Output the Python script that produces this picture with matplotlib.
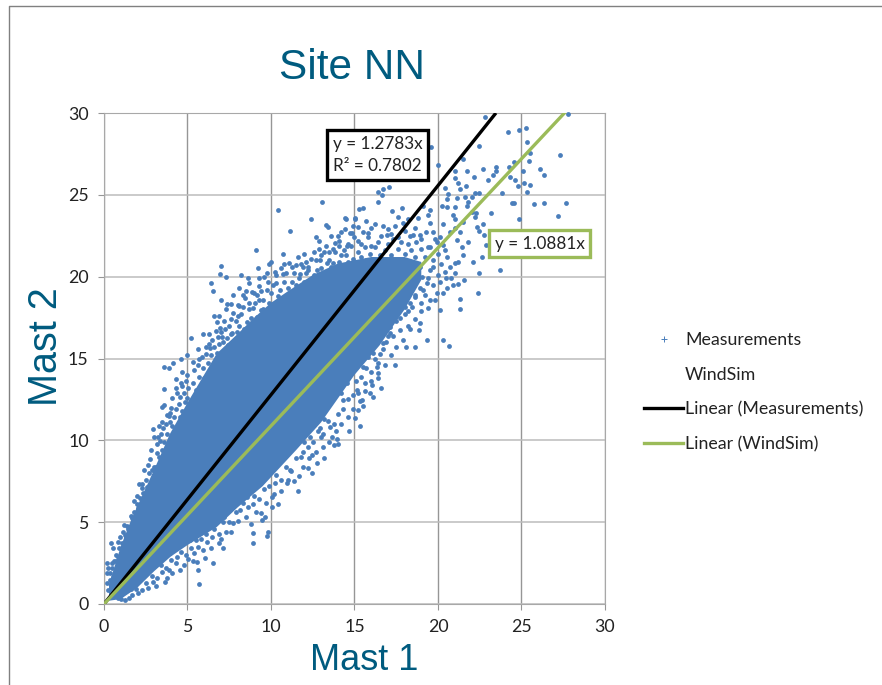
import numpy as np
import matplotlib
matplotlib.use("Agg")
import matplotlib.pyplot as plt
from matplotlib.lines import Line2D

title = "Site NN"
xlabel = "Mast 1"
ylabel = "Mast 2"
ticks = [0, 5, 10, 15, 20, 25, 30]
slope_meas = 1.2783
slope_sim = 1.0881
line_x_meas = [0, 23.47]
line_x_sim = [0, 27.8]

# solid part of the cloud, too dense to read single points
core_top_x = [0.3, 1, 1.65, 3, 3.95, 5, 6.75, 8, 9, 10, 11, 12.5, 14, 16, 18, 19]
core_top_y = [1.2, 3.5, 5.2, 8.2, 10.4, 12.3, 15.3, 16.5, 17.5, 18.4, 19.1, 20.1, 20.8, 21.2, 21.2, 20.9]
core_low_x = [19, 18, 16.5, 15, 13, 11.5, 9.5, 8, 6.75, 5, 4, 3, 2, 1, 0.3]
core_low_y = [19.8, 18.0, 15.8, 14.0, 11.1, 9.4, 7.2, 5.9, 4.7, 3.6, 2.9, 2.0, 1.0, 0.3, 0.2]

# points
top_right = [
    (22.81, 29.73), (27.8, 29.93), (24.21, 28.81), (24.85, 28.98), (25.27, 29.08), (25.35, 28.2), (25.5, 27.53),
    (25.45, 27.08), (27.3, 27.43), (26.1, 26.57), (26.37, 26.19), (24.55, 27.0), (24.25, 26.72), (25.1, 26.47),
    (24.31, 26.1), (24.61, 25.9), (25.15, 25.7), (25.5, 25.58), (24.77, 25.56), (25.3, 25.19), (23.81, 25.09),
    (25.77, 24.42), (26.37, 24.52), (27.68, 24.52), (24.41, 24.52), (24.55, 24.52), (27.18, 23.68), (24.85, 23.54),
    (23.71, 20.4), (22.39, 19.02), (21.32, 18.63), (21.32, 18.02), (20.32, 16.13), (20.66, 15.76), (22.43, 27.98),
    (21.52, 27.2), (19.56, 27.9), (20.02, 26.8), (22.71, 26.57), (23.47, 26.72), (23.47, 26.47), (23.27, 26.21),
    (23.01, 25.9), (21.04, 26.45), (21.71, 26.45), (22.15, 26.11), (21.02, 26.0), (21.22, 25.7), (21.68, 25.54),
    (21.32, 25.33), (20.44, 25.39), (20.62, 25.05), (22.21, 25.09), (22.47, 25.09), (22.01, 24.88), (21.62, 24.88),
    (21.16, 24.78), (21.81, 24.58), (21.71, 24.31), (20.52, 24.72), (20.22, 24.31), (20.56, 24.27), (21.02, 24.23),
    (22.01, 23.97), (22.27, 23.91), (20.92, 23.76), (21.02, 23.5), (21.52, 23.34), (22.21, 23.62), (23.15, 23.91),
    (22.71, 23.21), (22.31, 23.05), (22.47, 22.81), (22.75, 22.54), (22.85, 21.91), (22.65, 21.22), (22.07, 20.87),
    (22.43, 20.2), (21.58, 19.8), (21.22, 19.55), (20.92, 19.49), (20.52, 19.28), (20.12, 19.69), (19.92, 19.02),
    (19.52, 18.57), (20.12, 17.96), (18.92, 17.14), (18.88, 16.74), (18.22, 17.0), (17.72, 16.74), (19.36, 16.13),
    (18.62, 15.72), (20.12, 22.44),
]
middle = [
    (16.43, 25.19), (16.72, 25.33), (17.08, 25.45), (16.63, 24.99), (16.43, 24.58), (15.53, 24.21), (15.29, 24.11),
    (14.43, 23.56), (15.03, 23.56), (17.82, 24.21), (17.26, 24.01), (17.62, 23.66), (18.22, 23.5), (18.82, 23.56),
    (19.52, 24.07), (19.42, 23.76), (15.23, 23.05), (16.23, 23.2), (16.72, 23.09), (17.42, 23.09), (15.83, 22.64),
    (16.92, 22.54), (18.52, 22.54), (18.92, 22.54), (19.52, 23.25), (19.72, 22.74), (14.83, 22.64), (19.92, 22.13),
    (20.32, 21.93), (21.12, 22.24), (21.42, 21.83), (19.52, 21.83), (19.72, 21.01), (20.52, 21.22), (21.02, 20.81),
    (20.42, 20.3), (21.02, 20.2), (19.52, 20.4), (16.53, 16.74), (17.12, 16.53), (16.72, 15.92), (15.73, 15.72),
    (17.52, 18.16), (18.02, 18.16), (18.42, 18.16), (18.62, 18.77), (19.12, 19.18), (19.02, 20.0), (19.32, 19.59),
    (19.72, 20.61), (18.92, 20.61),
]
upper_left = [
    (13.07, 24.58), (10.4, 24.07), (12.37, 23.52), (13.29, 23.15), (13.39, 23.01), (11.12, 22.79), (12.69, 22.42),
    (14.49, 23.52), (15.03, 23.52), (14.43, 22.91), (14.73, 22.68), (13.99, 22.5), (14.09, 22.18), (13.83, 22.07),
    (14.53, 21.89), (12.87, 21.69), (9.08, 21.63), (13.49, 21.52), (13.83, 21.52), (13.17, 21.52), (12.69, 21.01),
    (12.93, 21.01), (12.1, 20.91), (11.78, 20.77), (11.1, 20.81), (10.78, 20.77), (9.9, 20.77), (11.24, 20.61),
    (7.03, 20.63), (9.2, 20.5), (9.74, 20.24), (6.97, 20.16), (7.3, 20.0), (8.18, 20.1), (10.24, 20.3), (10.7, 20.16),
    (11.74, 20.16), (12.21, 20.4), (12.73, 20.4), (13.33, 20.81), (13.73, 20.81), (14.63, 20.91), (9.26, 19.9),
    (6.43, 19.63), (8.66, 19.63), (10.1, 19.49), (11.24, 19.69), (6.55, 19.12), (8.5, 19.12), (8.86, 19.08),
    (9.4, 19.12), (9.74, 19.18), (10.54, 19.18), (8.44, 18.67), (9.14, 18.88), (7.34, 18.3), (7.58, 18.3),
    (8.04, 18.26), (7.3, 18.0), (9.04, 18.37), (9.54, 18.57), (8.34, 18.16), (8.68, 18.0), (9.4, 17.96), (9.74, 17.76),
    (6.59, 17.61), (7.58, 17.39), (7.9, 17.31), (8.54, 17.25), (6.75, 17.25), (6.95, 16.88), (7.25, 16.78),
    (9.14, 17.55), (5.19, 16.23), (6.49, 16.13), (7.64, 16.53), (7.94, 16.63), (8.24, 16.43), (7.05, 16.29),
    (7.34, 16.23), (6.11, 15.72), (6.35, 15.62), (5.85, 15.11), (6.75, 15.31), (7.64, 15.62), (8.34, 15.72),
]
low_upper_edge = [
    (3.59, 14.5), (4.15, 14.71), (3.89, 14.4), (5.35, 14.81), (4.31, 13.73), (4.59, 13.52), (3.59, 13.12), (5.05, 13.18),
    (4.55, 12.67), (4.85, 12.36), (3.59, 12.16), (3.45, 12.06), (3.95, 11.69), (3.75, 11.55), (4.55, 11.45),
    (3.45, 11.14), (3.95, 11.14), (2.95, 10.69), (3.55, 10.73), (2.99, 10.22), (3.25, 10.18), (3.35, 9.98),
    (4.45, 10.73), (2.75, 8.84), (2.65, 8.49), (2.99, 8.39), (3.31, 8.96), (2.69, 7.98), (2.95, 7.68), (2.09, 7.31),
    (2.25, 7.31), (2.55, 7.13), (2.95, 7.17), (1.79, 6.31), (2.15, 6.46), (2.35, 6.76), (2.05, 5.85), (1.65, 5.23),
    (1.36, 4.77), (1.16, 4.42), (0.96, 4.11), (1.26, 4.22), (0.42, 3.75), (0.56, 3.44), (0.86, 3.81), (1.06, 2.89),
    (0.16, 2.49), (0.26, 2.18), (0.46, 2.49), (0.72, 2.65), (0.16, 1.87), (0.36, 1.47), (0.2, 1.26), (0.56, 1.67),
    (0.26, 0.86), (0.46, 1.06),
]
low_lower_edge = [
    (0.86, 0.35), (1.26, 0.25), (1.66, 0.55), (2.05, 0.65), (2.65, 0.96), (2.95, 1.37), (3.75, 1.57), (3.65, 1.37),
    (3.45, 1.98), (3.91, 2.08), (4.55, 2.08), (5.65, 2.08), (5.67, 1.2), (6.05, 2.79), (6.55, 2.53), (5.55, 2.59),
    (5.05, 2.73), (4.35, 2.89), (3.95, 3.1), (7.14, 3.44), (6.9, 3.71), (6.45, 4.07), (6.15, 3.81), (5.65, 3.5),
    (5.15, 3.91), (8.94, 4.32), (8.94, 3.71), (9.84, 4.42), (9.74, 4.18), (7.3, 4.42), (7.74, 4.93), (7.14, 5.03),
    (9.44, 5.13), (9.64, 5.34), (9.38, 5.58), (10.04, 5.95), (10.04, 6.52), (8.94, 6.11), (8.14, 5.74), (7.74, 6.05),
    (8.54, 6.56), (10.94, 7.37), (10.24, 7.37), (11.67, 7.82), (12.43, 7.98), (12.73, 8.6), (12.23, 8.29), (12.43, 9.1),
    (11.77, 9.0), (11.14, 8.19), (13.79, 9.72), (13.93, 10.06), (13.63, 10.18), (12.97, 10.18), (13.53, 10.84),
    (12.93, 10.73), (12.33, 10.22), (15.33, 10.88), (15.03, 11.34), (15.53, 12.1), (15.23, 11.85), (15.43, 12.47),
    (16.13, 12.63), (15.93, 12.87), (15.63, 13.48), (16.03, 13.38), (16.43, 13.79), (15.13, 13.08), (14.33, 12.47),
    (14.53, 13.48), (14.93, 14.3), (15.53, 14.5), (16.13, 15.32), (16.33, 14.5),
]
# thick fringe just outside the solid part
upper_fringe = [
    (0.7, 3.0), (0.9, 3.4), (1.1, 3.7), (1.3, 4.1), (1.45, 4.6), (1.6, 5.4), (1.8, 5.6), (1.95, 6.1), (2.2, 6.0),
    (2.4, 6.5), (2.3, 7.1), (2.6, 6.9), (2.8, 7.4), (3.0, 7.9), (3.1, 8.4), (3.3, 8.2), (3.2, 9.2), (3.5, 9.4),
    (3.6, 9.9), (3.4, 10.4), (3.8, 10.4), (3.7, 11.0), (4.1, 10.9), (4.2, 11.4), (4.0, 12.0), (4.3, 11.9), (4.5, 12.2),
    (4.7, 11.8), (4.4, 12.9), (4.8, 12.9), (5.0, 12.6), (5.2, 12.3), (4.9, 13.6), (5.3, 13.5), (5.5, 13.1), (5.7, 13.9),
    (5.4, 14.3), (5.9, 14.4), (6.0, 13.8), (6.2, 14.7), (5.7, 15.0), (6.4, 15.2), (6.6, 15.7), (6.3, 15.9), (6.9, 15.9),
    (7.1, 16.0), (7.4, 15.8), (7.0, 16.6), (7.6, 16.5), (7.9, 16.2), (7.5, 17.0), (8.1, 17.0), (8.4, 16.8), (8.7, 16.7),
    (8.2, 17.7), (8.8, 17.5), (9.0, 17.2), (9.3, 17.0), (8.9, 18.1), (9.5, 18.0), (9.6, 17.6), (9.9, 18.4), (10.2, 18.1),
    (10.5, 18.0), (10.0, 19.0), (10.4, 18.8), (10.7, 18.5), (11.0, 18.6), (11.0, 19.3), (11.4, 19.0), (10.8, 19.7),
    (11.5, 19.5), (11.8, 19.2), (12.0, 19.7), (11.4, 20.2), (12.1, 20.2), (12.4, 19.6), (12.6, 20.1), (12.8, 19.9),
    (13.0, 20.5), (13.1, 20.1), (13.4, 20.3), (13.6, 20.6), (13.9, 20.4), (14.1, 20.9), (14.3, 20.5), (14.5, 21.3),
    (14.7, 20.8), (14.9, 21.1), (15.1, 20.9), (15.2, 21.5), (15.4, 21.2), (15.6, 21.8), (15.7, 21.0), (15.9, 21.4),
    (16.1, 21.1), (16.2, 21.8), (16.5, 21.3), (16.4, 22.1), (16.8, 21.6), (17.0, 22.0), (17.2, 21.3), (17.3, 22.3),
    (17.6, 21.7), (17.8, 22.1), (18.0, 21.4), (18.2, 22.0), (18.4, 21.6), (18.6, 21.2), (18.7, 22.1), (19.0, 21.7),
    (19.2, 21.2), (19.4, 21.8), (15.8, 22.4), (15.2, 22.2), (14.6, 22.0), (16.0, 23.0), (17.0, 22.9), (18.0, 22.8),
    (14.2, 21.3), (13.5, 21.0), (12.2, 20.6), (11.7, 19.9), (10.3, 19.6), (9.3, 18.6), (8.0, 17.6), (6.8, 16.3),
    (6.1, 15.3), (5.0, 14.0), (4.7, 13.3), (3.9, 11.5), (3.2, 9.8), (2.9, 8.2), (2.5, 7.6), (2.0, 6.6), (1.2, 4.8),
    (0.5, 2.2), (0.35, 1.9), (0.6, 2.6), (0.85, 2.9),
]
lower_fringe = [
    (1.0, 0.3), (1.5, 0.35), (1.9, 0.9), (2.3, 0.85), (2.5, 1.3), (2.9, 1.7), (3.2, 1.6), (3.4, 2.4), (3.7, 2.2),
    (4.0, 2.7), (4.3, 2.5), (4.6, 3.2), (4.9, 3.0), (5.2, 3.4), (5.4, 3.1), (5.8, 4.0), (6.1, 4.3), (6.6, 4.6),
    (6.9, 4.3), (7.2, 5.3), (7.5, 5.0), (7.9, 5.6), (8.3, 6.2), (8.6, 5.9), (9.0, 6.6), (9.3, 6.4), (9.6, 7.0),
    (9.9, 7.2), (10.3, 7.9), (10.6, 7.6), (10.9, 8.4), (11.2, 8.1), (11.5, 8.9), (11.9, 9.3), (12.2, 9.6), (12.5, 9.9),
    (12.8, 10.6), (13.1, 10.4), (13.4, 11.2), (13.8, 11.0), (14.0, 11.6), (14.3, 11.9), (14.6, 12.5), (14.9, 12.8),
    (15.1, 13.6), (15.4, 13.9), (15.7, 14.4), (16.0, 14.2), (16.2, 15.0), (16.5, 15.3), (16.7, 15.6), (16.9, 16.0),
    (17.1, 16.9), (17.3, 16.4), (17.5, 17.3), (17.7, 17.5), (18.0, 17.7), (18.3, 18.4), (18.6, 18.9), (18.9, 19.3),
    (19.2, 18.9), (19.4, 19.9), (19.7, 19.5), (20.0, 20.1), (20.2, 20.8), (20.0, 21.4), (20.4, 21.6), (20.7, 22.7),
    (21.0, 23.0), (20.3, 23.2), (19.8, 22.3), (14.2, 12.9), (13.2, 11.3), (12.0, 9.9), (11.0, 9.2), (10.1, 8.3),
    (9.2, 7.3), (8.1, 6.5), (7.0, 5.6), (6.2, 4.8), (5.5, 3.9), (4.5, 3.6), (3.5, 2.8), (2.6, 1.9), (1.6, 0.9),
    (15.8, 15.1), (17.0, 16.4), (18.2, 17.9), (19.0, 18.4), (16.4, 14.7), (15.2, 12.9),
]
# second, looser rows around the fringe
upper_loose = [
    (4.7, 14.2), (4.3, 13.2), (4.1, 12.6), (3.3, 10.9), (2.8, 9.4), (2.4, 8.2), (5.6, 14.6), (6.3, 16.5), (6.7, 16.7),
    (7.2, 17.3), (6.9, 17.6), (7.7, 17.8), (8.1, 18.2), (8.7, 18.4), (8.3, 18.9), (9.0, 19.0), (9.3, 19.4), (9.8, 19.7),
    (9.6, 20.0), (10.3, 20.1), (10.6, 20.5), (10.9, 20.2), (11.5, 20.7), (11.9, 20.6), (12.4, 21.1), (12.0, 21.4),
    (12.6, 21.5), (13.0, 21.3), (13.3, 21.9), (13.7, 21.7), (14.1, 21.9), (14.4, 21.6), (14.8, 21.9), (14.2, 22.7),
    (15.0, 22.4), (15.4, 22.0), (15.5, 22.7), (16.0, 21.9), (16.6, 22.5), (17.2, 22.6), (17.6, 22.4), (18.3, 22.5),
    (18.6, 23.0), (19.0, 22.3), (19.3, 22.7), (13.6, 22.5), (12.9, 22.2), (11.6, 21.2), (10.7, 21.4), (10.0, 20.9),
    (8.6, 19.9), (8.1, 19.3), (7.7, 18.9), (7.0, 18.6), (5.9, 16.5), (5.6, 15.6), (5.0, 15.2), (4.6, 15.0),
    (15.7, 23.4), (14.9, 23.1), (17.9, 23.3), (19.1, 24.3),
]
lower_loose = [
    (3.1, 1.1), (4.1, 1.9), (4.8, 2.4), (5.3, 2.6), (5.9, 3.3), (6.4, 3.4), (7.0, 4.0), (7.6, 4.4), (8.0, 5.1),
    (8.5, 5.3), (9.1, 5.6), (9.7, 6.2), (10.2, 6.7), (10.6, 6.9), (11.0, 7.6), (11.4, 7.5), (11.9, 8.4), (12.3, 8.9),
    (12.7, 9.3), (13.1, 9.6), (13.5, 9.9), (13.9, 10.6), (14.2, 11.0), (14.6, 11.4), (14.9, 11.9), (15.3, 12.4),
    (15.6, 13.0), (16.0, 13.6), (16.4, 14.1), (16.8, 14.6), (17.2, 15.2), (17.5, 15.7), (17.9, 16.1), (18.3, 16.8),
    (18.6, 17.4), (19.0, 17.9), (19.4, 18.1), (19.8, 18.6), (20.3, 19.0), (20.5, 19.9), (20.8, 19.9), (20.7, 20.6),
    (21.2, 20.9), (21.5, 21.3), (21.8, 22.1), (21.3, 22.7), (8.8, 4.9), (10.4, 6.1), (11.6, 6.9), (13.2, 8.9),
    (14.0, 9.8), (14.7, 10.6), (16.6, 13.2), (17.4, 14.6), (18.1, 15.7),
]

blue = "#4a7ebb"
green = "#9bbb59"
teal = "#005b7f"
body_font = "Lato"
head_font = "Liberation Sans"

fig = plt.figure(figsize=(8.82, 6.85), dpi=100)
ax = fig.add_axes([104 / 882, 1 - 604 / 685, 501 / 882, 491 / 685])

ax.set_axisbelow(True)
ax.grid(axis="x", color="#969696", linewidth=1)
ax.grid(axis="y", color="#bcbcbc", linewidth=1.1)

ax.fill(core_top_x + core_low_x, core_top_y + core_low_y, color=blue, linewidth=0, zorder=2)
for group in [top_right, middle, upper_left, low_upper_edge, low_lower_edge, upper_fringe, lower_fringe,
              upper_loose, lower_loose]:
    gx, gy = zip(*group)
    ax.scatter(gx, gy, s=12, color=blue, linewidths=0, zorder=3, clip_on=False)

ax.plot(line_x_meas, slope_meas * np.array(line_x_meas), color="black", lw=2.4, zorder=4, solid_capstyle="butt")
ax.plot(line_x_sim, slope_sim * np.array(line_x_sim), color=green, lw=2.4, zorder=4, solid_capstyle="butt")

ax.set_xlim(0, 30)
ax.set_ylim(0, 30)
ax.set_xticks(ticks)
ax.set_yticks(ticks)
ax.tick_params(length=4, color="#969696", labelsize=12.8, pad=7, labelcolor="#222222")
for lab in ax.get_xticklabels() + ax.get_yticklabels():
    lab.set_family(body_font)
for s in ax.spines.values():
    s.set_color("#a8a8a8")

fig.text(352 / 882, 1 - 68 / 685, title, color=teal, fontsize=30.5, family=head_font, ha="center", va="center")
fig.text(364 / 882, 1 - 661 / 685, xlabel, color=teal, fontsize=26, family=head_font, ha="center", va="center")
fig.text(46 / 882, 1 - 347 / 685, ylabel, color=teal, fontsize=28.5, family=head_font, ha="center", va="center", rotation=90)

ax.text(16.38, 27.43, "y = 1.2783x\nR² = 0.7802", fontsize=12.3, family=body_font, color="#222222",
        ha="center", va="center", zorder=6, linespacing=1.45,
        bbox=dict(boxstyle="square,pad=0.33", fc="white", ec="black", lw=2.4))
ax.text(26.1, 22.02, "y = 1.0881x", fontsize=12.3, family=body_font, color="#222222",
        ha="center", va="center", zorder=6,
        bbox=dict(boxstyle="square,pad=0.33", fc="white", ec=green, lw=2.4))

handles = [
    Line2D([], [], ls="none", marker="+", ms=4, mew=0.7, color=blue),
    Line2D([], [], ls="none"),
    Line2D([], [], color="black", lw=2.4),
    Line2D([], [], color=green, lw=2.4),
]
labels = ["Measurements", "WindSim", "Linear (Measurements)", "Linear (WindSim)"]
fig.legend(handles, labels, loc="center left", bbox_to_anchor=(644 / 882, 1 - 392 / 685), frameon=False,
           prop={"family": body_font, "size": 12.8}, labelcolor="#222222", labelspacing=1.05,
           handlelength=2.2, handletextpad=0.1, borderpad=0, borderaxespad=0)

fig.add_artist(Line2D([8.5 / 882, 8.5 / 882, 1], [0, 1 - 5.5 / 685, 1 - 5.5 / 685], color="#808080", lw=1))

fig.savefig("out.png", dpi=100)
